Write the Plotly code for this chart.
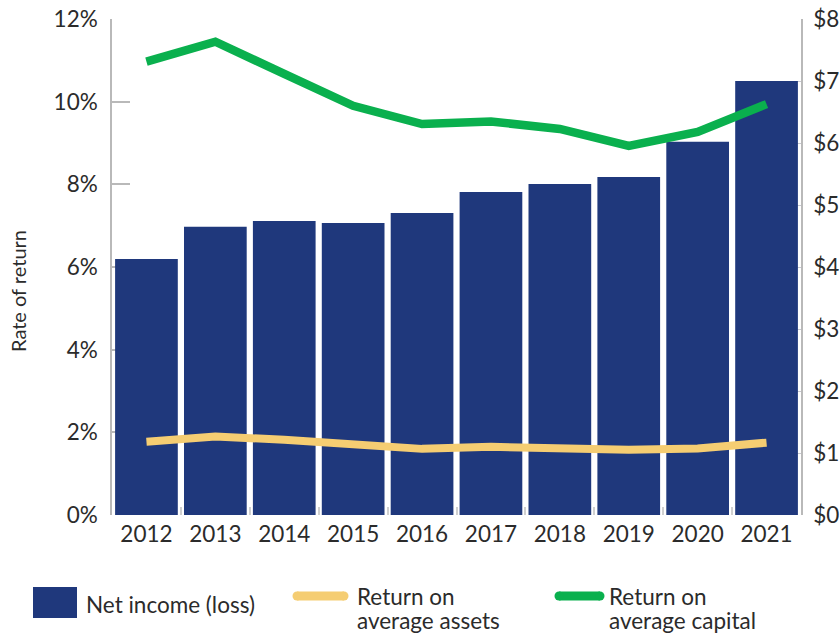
import plotly.graph_objects as go

years = ["2012", "2013", "2014", "2015", "2016", "2017", "2018", "2019", "2020", "2021"]
net_income = [4.13, 4.65, 4.74, 4.71, 4.87, 5.21, 5.34, 5.45, 6.02, 7.00]
return_on_assets = [1.77, 1.90, 1.82, 1.70, 1.60, 1.65, 1.63, 1.58, 1.61, 1.75]
return_on_capital = [10.97, 11.45, 10.67, 9.90, 9.46, 9.52, 9.34, 8.93, 9.27, 9.94]

pct_ticks = [0, 2, 4, 6, 8, 10, 12]
pct_labels = [f"{v}%" for v in pct_ticks]
usd_ticks = list(range(0, 9))
usd_labels = [f"${v}" for v in usd_ticks]

NAVY = "#1f387c"
GOLD = "#f5cd72"
GREEN = "#0ab04e"
TEXT = "#2b2b2b"
AXIS = "#b9b9b9"
FONT = "Source Sans Pro, Lato, Noto Sans, sans-serif"
FS = 22.5

# plot area in pixels
L, R, T, B = 112, 801, 19, 515
W, H = R - L, B - T

fig = go.Figure()

fig.add_trace(go.Bar(
    x=years, y=net_income, name="Net income (loss)",
    marker=dict(color=NAVY, line=dict(width=0)),
    yaxis="y", showlegend=False,
))
fig.add_trace(go.Scatter(
    x=years, y=return_on_assets, name="Return on average assets",
    mode="lines", line=dict(color=GOLD, width=8),
    yaxis="y2", showlegend=False,
))
fig.add_trace(go.Scatter(
    x=years, y=return_on_capital, name="Return on average capital",
    mode="lines", line=dict(color=GREEN, width=8.5),
    yaxis="y2", showlegend=False,
))

fig.update_layout(
    width=840, height=633,
    margin=dict(l=L, r=840 - R, t=T, b=633 - B, autoexpand=False),
    paper_bgcolor="white", plot_bgcolor="white",
    font=dict(family=FONT, size=FS, color=TEXT),
    bargap=0.09,
    xaxis=dict(
        type="category", range=[-0.5, 9.5], automargin=False,
        showline=False, showgrid=False, zeroline=False,
        ticks="inside", tickson="boundaries", ticklen=8, tickcolor="#d0d0d0",
        tickwidth=1.5, tickfont=dict(size=FS, color=TEXT), ticklabelstandoff=3,
    ),
    yaxis=dict(
        side="right", range=[0, 8], tickvals=usd_ticks, ticktext=usd_labels,
        automargin=False,
        showline=True, linecolor=AXIS, linewidth=1.5,
        ticks="inside", ticklen=16, tickcolor="#c8c8d0", tickwidth=1,
        showgrid=False, zeroline=False, layer="below traces",
        tickfont=dict(size=FS, color=TEXT), ticklabelstandoff=6,
    ),
    yaxis2=dict(
        overlaying="y", side="left", range=[0, 12], automargin=False,
        tickvals=pct_ticks, ticktext=pct_labels,
        showline=True, linecolor=AXIS, linewidth=1.5,
        ticks="inside", ticklen=18, tickcolor=AXIS, tickwidth=1.5,
        showgrid=False, zeroline=False, layer="below traces",
        tickfont=dict(size=FS, color=TEXT), ticklabelstandoff=8,
    ),
)


def px(x, y):
    """Pixel position -> paper coordinates."""
    return (x - L) / W, (B - y) / H


shapes = []
x0, y0 = px(33, 618)
x1, y1 = px(77, 587)
shapes.append(dict(type="rect", xref="paper", yref="paper", x0=x0, x1=x1, y0=y0, y1=y1,
                   fillcolor=NAVY, line=dict(width=0)))

# line keys with rounded ends
for xa, xb, col in [(297, 344, GOLD), (559, 600, GREEN)]:
    a, yy = px(xa, 596)
    b, _ = px(xb, 596)
    shapes.append(dict(type="line", xref="paper", yref="paper", x0=a, x1=b, y0=yy, y1=yy,
                       line=dict(color=col, width=9)))
    for cx in (xa, xb):
        c0, d0 = px(cx - 4.5, 600.5)
        c1, d1 = px(cx + 4.5, 591.5)
        shapes.append(dict(type="circle", xref="paper", yref="paper",
                           x0=c0, x1=c1, y0=d0, y1=d1,
                           fillcolor=col, line=dict(width=0)))

annotations = []


def label(x, y, text, size=FS, angle=0, xanchor="left"):
    ax, ay = px(x, y)
    annotations.append(dict(
        xref="paper", yref="paper", x=ax, y=ay, text=text, showarrow=False,
        xanchor=xanchor, yanchor="middle", textangle=angle,
        font=dict(family=FONT, size=size, color=TEXT),
    ))


label(84, 604, "Net income (loss)")
label(355, 596, "Return on")
label(355, 620, "average assets")
label(607, 596, "Return on")
label(607, 620, "average capital")
label(18, 291, "Rate of return", size=20, angle=-90, xanchor="center")

fig.update_layout(shapes=shapes, annotations=annotations)

fig.write_html("out.html")
